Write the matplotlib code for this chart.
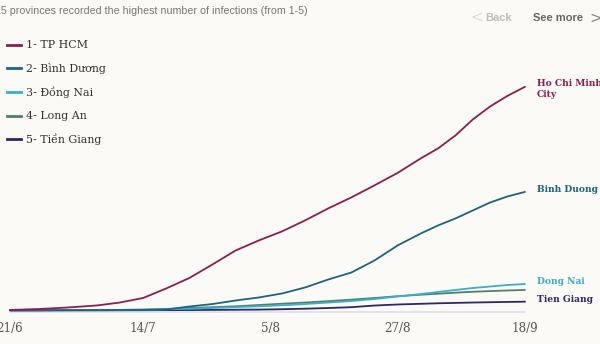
import matplotlib
matplotlib.use("Agg")
import matplotlib.pyplot as plt
import pandas as pd

# ─── DATA ─────────────────────────────────────────────────────────
dates = ["2021-06-21", "2021-06-26", "2021-07-01", "2021-07-06", "2021-07-10",
         "2021-07-14", "2021-07-18", "2021-07-22", "2021-07-26", "2021-07-30",
         "2021-08-03", "2021-08-07", "2021-08-11", "2021-08-15", "2021-08-19",
         "2021-08-23", "2021-08-27", "2021-08-31", "2021-09-03", "2021-09-06",
         "2021-09-09", "2021-09-12", "2021-09-15", "2021-09-18"]

# cumulative infections
hcm = [700, 2000, 4000, 6700, 10600, 16600, 29300, 43200, 61200, 79800,
       93100, 105100, 119700, 135700, 150300, 166300, 182900, 202200, 215500,
       232700, 254000, 271300, 285300, 297300]
binh_duong = [300, 400, 500, 600, 700, 700, 1300, 5300, 8600, 13300,
              17300, 22600, 30600, 41200, 50500, 66500, 86500, 102400, 113100,
              122400, 133000, 143600, 151600, 157600]
dong_nai = [300, 400, 500, 700, 800, 1100, 1600, 2400, 3300, 4400,
            5600, 7000, 8600, 10600, 12600, 15300, 18600, 21900, 24600,
            27300, 29900, 31900, 33900, 35200]
long_an = [300, 400, 500, 700, 800, 1200, 2000, 3300, 4400, 5600,
           7300, 9000, 10600, 12400, 14400, 16600, 19000, 21000, 22300,
           23700, 24900, 25800, 26600, 27300]
tien_giang = [100, 100, 200, 200, 300, 400, 500, 600, 800, 1000,
              1200, 1700, 2400, 3300, 4400, 6600, 8000, 8900, 9600,
              10100, 10600, 11000, 11400, 11700]

series_names = ["1- TP HCM", "2- Bình Dương", "3- Đồng Nai", "4- Long An", "5- Tiền Giang"]
end_labels = ["Ho Chi Minh\nCity", "Binh Duong", "Dong Nai", "", "Tien Giang"]
tick_dates = ["2021-06-21", "2021-07-14", "2021-08-05", "2021-08-27", "2021-09-18"]
tick_labels = ["21/6", "14/7", "5/8", "27/8", "18/9"]

# ─── STYLE ────────────────────────────────────────────────────────
BG = "#fbfaf7"
COLORS = ["#8c1f4f", "#1f6380", "#3badcd", "#4f8068", "#2c2966"]
SERIF = ["DejaVu Serif"]

x = pd.to_datetime(dates)
all_series = [hcm, binh_duong, dong_nai, long_an, tien_giang]

fig = plt.figure(figsize=(6.0, 3.44), dpi=100)
fig.patch.set_facecolor(BG)

W, H = 600, 344
ax = fig.add_axes([10 / W, 33.5 / H, 515 / W, 290.5 / H])
ax.set_facecolor(BG)
ax.set_xlim(x[0], x[-1])
ax.set_ylim(0, 386000)

ax.axhline(-1500, color="#dfe1ea", linewidth=1.3, zorder=0, clip_on=False)

# draw the smaller series first so HCM sits on top
for vals, col in reversed(list(zip(all_series, COLORS))):
    ax.plot(x, vals, color=col, linewidth=1.3, solid_capstyle="round",
            solid_joinstyle="round", clip_on=False)

for s in ax.spines.values():
    s.set_visible(False)
ax.set_yticks([])
ax.set_xticks(pd.to_datetime(tick_dates))
ax.set_xticklabels(tick_labels, family=SERIF, fontsize=8.6, color="#555555")
ax.tick_params(axis="x", length=0, pad=8)

# end-of-line labels
label_y = {0: 79, 1: 190, 2: 282, 4: 300}
for i, y in label_y.items():
    txt = end_labels[i]
    fig.text(537 / W, 1 - y / H, txt, family=SERIF, fontsize=6.6, fontweight="bold",
             color=COLORS[i], va="center" if "\n" not in txt else "top",
             linespacing=1.35)

# legend (drawn by hand, top-left)
rows_y = [45, 68, 92, 116, 139]
for name, col, yy in zip(series_names, COLORS, rows_y):
    fig.add_artist(plt.Line2D([7 / W, 21 / W], [1 - yy / H, 1 - yy / H],
                              color=col, linewidth=2, transform=fig.transFigure))
    fig.text(26 / W, 1 - yy / H, name, family=SERIF, fontsize=7.9,
             color="#333333", va="center")

# header
fig.text(-5 / W, 1 - 11 / H, "15 provinces recorded the highest number of infections (from 1-5)",
         family=["Liberation Sans"], fontsize=7.7, color="#777777", va="center")
fig.text(470 / W, 1 - 18 / H, "<", family=["DejaVu Sans"], fontsize=11, color="#c8c8c8",
         va="center", fontweight="light")
fig.text(485 / W, 1 - 18 / H, "Back", family=["Liberation Sans"], fontsize=8, color="#bdbdbd",
         va="center", fontweight="bold")
fig.text(533 / W, 1 - 18 / H, "See more", family=["Liberation Sans"], fontsize=8, color="#666666",
         va="center", fontweight="bold")
fig.text(589 / W, 1 - 18 / H, ">", family=["DejaVu Sans"], fontsize=11, color="#888888",
         va="center")

fig.savefig("out.png", dpi=100, facecolor=fig.get_facecolor())
